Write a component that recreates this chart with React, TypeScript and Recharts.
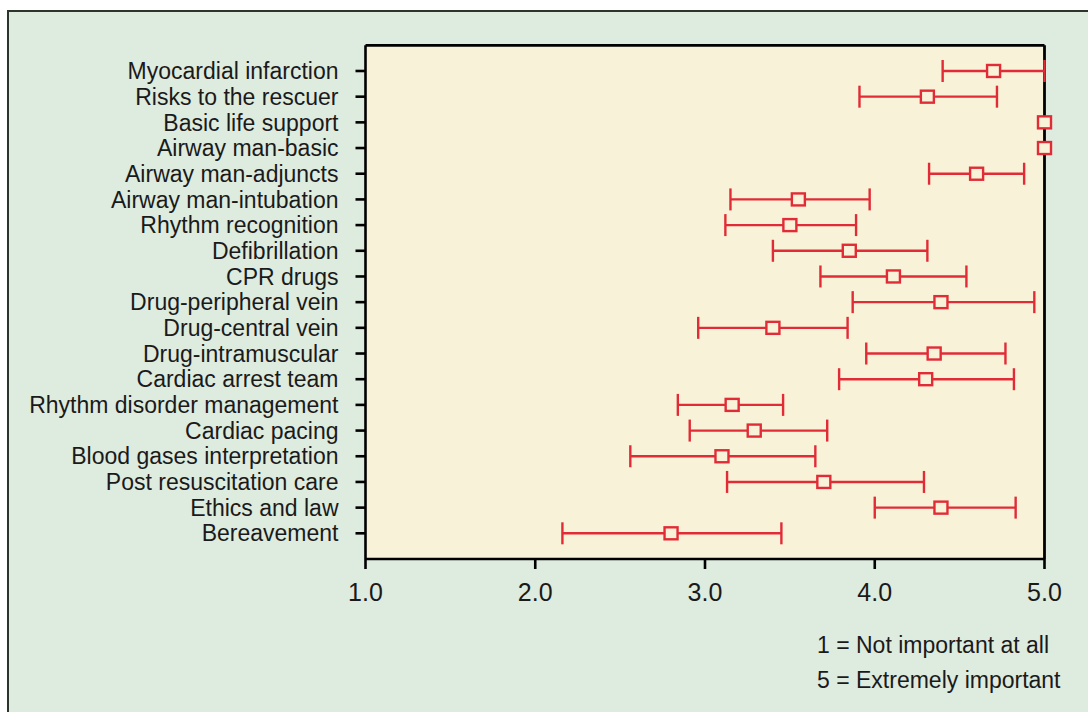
import { ComposedChart, Scatter, ErrorBar, XAxis, YAxis, CartesianGrid, ReferenceLine } from 'recharts';

const categories = [
  'Myocardial infarction',
  'Risks to the rescuer',
  'Basic life support',
  'Airway man-basic',
  'Airway man-adjuncts',
  'Airway man-intubation',
  'Rhythm recognition',
  'Defibrillation',
  'CPR drugs',
  'Drug-peripheral vein',
  'Drug-central vein',
  'Drug-intramuscular',
  'Cardiac arrest team',
  'Rhythm disorder management',
  'Cardiac pacing',
  'Blood gases interpretation',
  'Post resuscitation care',
  'Ethics and law',
  'Bereavement',
];

const means = [4.7, 4.31, 5.0, 5.0, 4.6, 3.55, 3.5, 3.85, 4.11, 4.39, 3.4, 4.35, 4.3, 3.16, 3.29, 3.1, 3.7, 4.39, 2.8];
const lows = [4.4, 3.91, null, null, 4.32, 3.15, 3.12, 3.4, 3.68, 3.87, 2.96, 3.95, 3.79, 2.84, 2.91, 2.56, 3.13, 4.0, 2.16];
const highs = [5.0, 4.72, null, null, 4.88, 3.97, 3.89, 4.31, 4.54, 4.94, 3.84, 4.77, 4.82, 3.46, 3.72, 3.65, 4.29, 4.83, 3.45];

const xTicks = [1, 2, 3, 4, 5];
const notes = ['1 = Not important at all', '5 = Extremely important'];

const RED = '#e12c37';
const PLOT_BG = '#f8f3d8';
const PAGE_BG = '#deebdf';
const FONT = '"Liberation Sans", Arial, sans-serif';

const rows = categories.map((name, i) => ({
  idx: i,
  name,
  mean: means[i],
  err: lows[i] == null ? null : [means[i] - (lows[i] as number), (highs[i] as number) - means[i]],
}));
const yTicks = rows.map((r) => r.idx);

const Square = (props: any) => {
  const { cx, cy } = props;
  if (cx == null || cy == null) return null;
  return <rect x={cx - 6.5} y={cy - 6} width={13} height={12} fill={PLOT_BG} stroke={RED} strokeWidth={2.4} />;
};

export default function App() {
  return (
    <div>
      <div
        style={{
          position: 'absolute',
          left: 7,
          top: 10,
          width: 1081,
          height: 702,
          boxSizing: 'border-box',
          background: PAGE_BG,
          borderLeft: '2px solid #2b352b',
          borderTop: '2px solid #2b352b',
        }}
      />
      <div style={{ position: 'absolute', left: 0, top: 0, width: 1088, height: 712 }}>
        <ComposedChart
          width={1088}
          height={712}
          data={rows}
          margin={{ top: 45.3, right: 43.5, left: 25.5, bottom: 93 }}
        >
          <CartesianGrid fill={PLOT_BG} horizontal={false} vertical={false} />
          {/* top and right sides of the plot frame */}
          <ReferenceLine x={5} stroke="#000" strokeWidth={2.8} ifOverflow="visible" />
          <ReferenceLine y={-1} stroke="#000" strokeWidth={2.8} ifOverflow="visible" />
          <XAxis
            type="number"
            dataKey="mean"
            domain={[1, 5]}
            ticks={xTicks}
            tickFormatter={(v: number) => v.toFixed(1)}
            height={60}
            axisLine={{ stroke: '#000', strokeWidth: 2.6 }}
            tickLine={{ stroke: '#000', strokeWidth: 2.6 }}
            tickSize={10}
            tickMargin={14}
            tick={{ fill: '#1a1a1a', fontSize: 25, fontFamily: FONT }}
          />
          <YAxis
            type="number"
            dataKey="idx"
            domain={[-1, 19]}
            reversed
            ticks={yTicks}
            interval={0}
            tickFormatter={(i: number) => categories[i] ?? ''}
            width={340}
            axisLine={{ stroke: '#000', strokeWidth: 2.6 }}
            tickLine={{ stroke: '#000', strokeWidth: 2.6 }}
            tickSize={10}
            tickMargin={17}
            tick={{ fill: '#1a1a1a', fontSize: 23, fontFamily: FONT }}
          />
          <Scatter dataKey="mean" fill={RED} shape={<Square />} isAnimationActive={false}>
            <ErrorBar dataKey="err" direction="x" width={11} stroke={RED} strokeWidth={2.4} isAnimationActive={false} />
          </Scatter>
        </ComposedChart>
      </div>
      <svg
        width={1088}
        height={712}
        style={{ position: 'absolute', left: 0, top: 0, pointerEvents: 'none' }}
      >
        {notes.map((t, i) => (
          <text key={t} x={817} y={652.7 + i * 35.3} fontSize={23} fontFamily={FONT} fill="#1a1a1a">
            {t}
          </text>
        ))}
      </svg>
    </div>
  );
}
